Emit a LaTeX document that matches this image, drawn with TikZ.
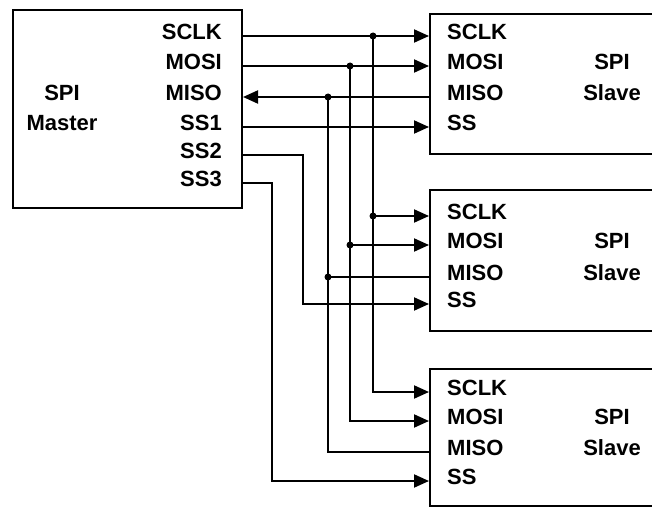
\documentclass[tikz,border=0pt]{standalone}
\usepackage{fontspec}
\setmainfont{Liberation Sans}
\usetikzlibrary{arrows.meta}
\tikzset{
  chip/.style={
    draw=black,
    line width=2pt,
    inner sep=0pt
  },
  pin/.style={
    font=\fontsize{22}{26}\selectfont\bfseries,
    inner sep=0pt,
    text height=1.45ex,
    text depth=0pt
  },
  sig/.style={line width=2pt},
  tip/.style={-{Triangle[length=15pt,width=13pt]}},
  joint/.style={
    circle,
    fill=black,
    minimum size=7pt,
    inner sep=0pt
  }
}

\begin{document}
\begin{tikzpicture}[x=1pt,y=-1pt]
  \useasboundingbox (0,0) rectangle (652,508);
  \clip (0,0) rectangle (652,508);
  % master
  \node[chip, minimum width=229pt, minimum height=198pt] (master) at (127.5,109) {};
  \foreach \name/\txt/\y in {sclk/SCLK/36, mosi/MOSI/66, miso/MISO/97,
                             ss1/SS1/127, ss2/SS2/155, ss3/SS3/183} {
    \node[pin, anchor=east] (m-\name) at (222,\y) {\txt};
  }
  \node[pin] (m-spi) at (62,97) {SPI};
  \node[pin] (m-title) at (62,127) {Master};
  % slaves
  \foreach \s/\top/\h/\ya/\yb/\yc/\yd in {s1/13/140/36/66/97/127,
                                         s2/189/141/216/245/277/304,
                                         s3/368/137/392/421/452/481} {
    \node[chip, anchor=north west, minimum width=251pt, minimum height=\h pt]
      (\s) at (429,\top) {};
    \node[pin, anchor=west] (\s-sclk) at (447,\ya) {SCLK};
    \node[pin, anchor=west] (\s-mosi) at (447,\yb) {MOSI};
    \node[pin, anchor=west] (\s-miso) at (447,\yc) {MISO};
    \node[pin, anchor=west] (\s-ss) at (447,\yd) {SS};
    \node[pin] (\s-spi) at (612,\yb) {SPI};
    \node[pin] (\s-title) at (612,\yc) {Slave};
  }
  % buses
  \coordinate (bus-sclk) at (373,0);
  \coordinate (bus-mosi) at (350,0);
  \coordinate (bus-miso) at (328,0);
  \coordinate (bus-ss2) at (303,0);
  \coordinate (bus-ss3) at (272,0);
  % clock and data out
  \foreach \b in {sclk,mosi} {
    \draw[sig,tip] (master.east |- m-\b) -- (s1.west |- s1-\b);
    \draw[sig,tip] (bus-\b |- m-\b) |- (s3.west |- s3-\b);
    \draw[sig,tip] (bus-\b |- s2-\b) -- (s2.west |- s2-\b);
  }
  % data in
  \draw[sig,tip] (s1.west |- s1-miso) -- (master.east |- m-miso);
  \draw[sig] (s3.west |- s3-miso) -| (bus-miso |- m-miso);
  \draw[sig] (s2.west |- s2-miso) -- (bus-miso |- s2-miso);
  % slave selects
  \draw[sig,tip] (master.east |- m-ss1) -- (s1.west |- s1-ss);
  \draw[sig,tip] (master.east |- m-ss2) -| (bus-ss2 |- s2-ss) -- (s2.west |- s2-ss);
  \draw[sig,tip] (master.east |- m-ss3) -| (bus-ss3 |- s3-ss) -- (s3.west |- s3-ss);
  % junctions
  \foreach \b in {sclk,mosi,miso} {
    \node[joint] (j-\b-m) at (bus-\b |- m-\b) {};
    \node[joint] (j-\b-s2) at (bus-\b |- s2-\b) {};
  }
\end{tikzpicture}
\end{document}
